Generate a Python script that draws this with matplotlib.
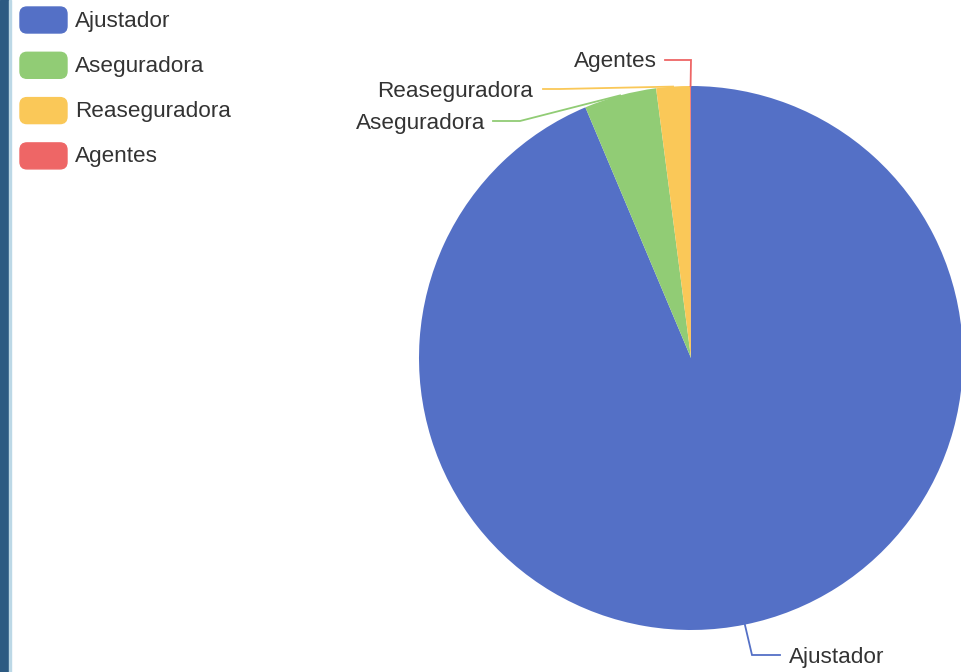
import numpy as np
import matplotlib
matplotlib.use("Agg")
import matplotlib.pyplot as plt
from matplotlib.patches import FancyBboxPatch, Rectangle

labels = ["Ajustador", "Aseguradora", "Reaseguradora", "Agentes"]
values = [93.7, 4.3, 2.0, 0.05]
colors = ["#5470c6", "#91cc75", "#fac858", "#ee6666"]

W, H = 962, 672
CX, CY, R = 691, 358, 272   # pie centre / radius in pixels
TXT = "#333333"
FONT = "Liberation Sans"
FS = 16.2

fig = plt.figure(figsize=(W / 100, H / 100), dpi=100)
fig.patch.set_facecolor("white")

# left dark strip
fig.add_artist(Rectangle((0, 0), 9 / W, 1, transform=fig.transFigure,
                         color="#2c5a82", zorder=0))
fig.add_artist(Rectangle((9 / W, 0), 2 / W, 1, transform=fig.transFigure,
                         color="#bcd8e6", zorder=0))

ax = fig.add_axes([(CX - R) / W, (H - CY - R) / H, 2 * R / W, 2 * R / H])
wedges, _ = ax.pie(values, colors=colors, startangle=90, counterclock=False,
                   radius=1, wedgeprops=dict(linewidth=0))
ax.set_xlim(-1, 1); ax.set_ylim(-1, 1)
ax.set_aspect("equal"); ax.axis("off")

def px(x, y):
    # pixel -> axis units
    return (x - CX) / R, (CY - y) / R

def edge(w):
    a = np.deg2rad((w.theta1 + w.theta2) / 2)
    return np.cos(a), np.sin(a)

# leader lines: (elbow, end, text x, ha) in pixels
leaders = {
    "Ajustador":     ((752, 655), (780, 655), 789, "left"),
    "Aseguradora":   ((520, 121), (493, 121), 485, "right"),
    "Reaseguradora": ((560, 89), (543, 89), 533, "right"),
    "Agentes":       ((691, 60), (665, 60), 657, "right"),
}
for w, lab, col in zip(wedges, labels, colors):
    (ex, ey), (nx, ny), tx, ha = leaders[lab]
    x0, y0 = edge(w)
    x1, y1 = px(ex, ey)
    x2, y2 = px(nx, ny)
    ax.plot([x0, x1, x2], [y0, y1, y2], color=col, lw=1.3,
            clip_on=False, solid_joinstyle="miter")
    ax.text(px(tx, ny + 2)[0], px(tx, ny + 2)[1], lab, ha=ha, va="center",
            fontsize=FS, color=TXT, family=FONT, clip_on=False)

# legend, boxes in inches (100 px per inch)
for i, (lab, col) in enumerate(zip(labels, colors)):
    yc = 20 + i * 45.3
    fig.add_artist(FancyBboxPatch((20 / 100, (H - yc - 13) / 100), 0.47, 0.26,
                                  boxstyle="round,pad=0,rounding_size=0.07",
                                  transform=fig.dpi_scale_trans, color=col))
    fig.text(75 / W, (H - yc - 1) / H, lab, ha="left", va="center",
             fontsize=FS, color=TXT, family=FONT)

fig.savefig("out.png", dpi=100)
